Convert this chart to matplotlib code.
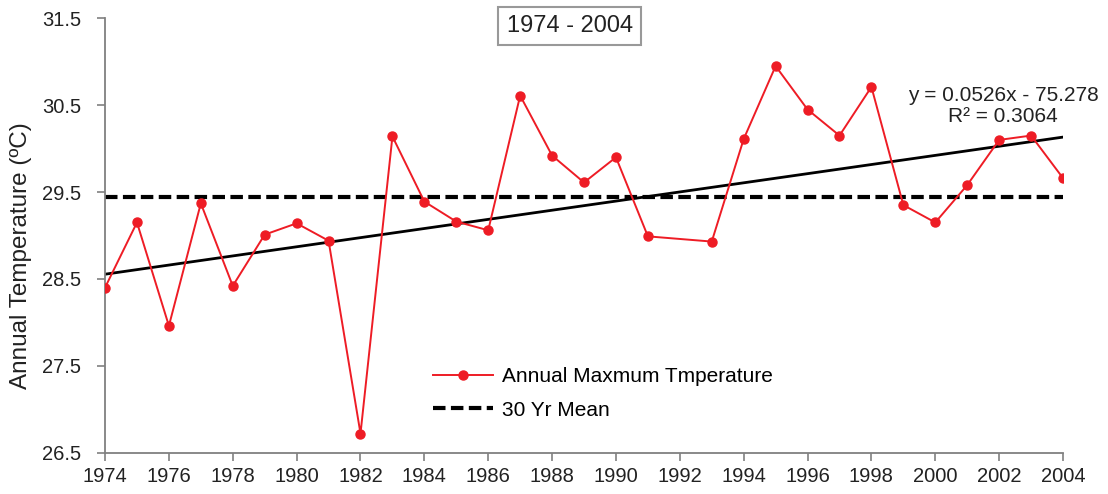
import numpy as np
import matplotlib.pyplot as plt

plt.rcParams['font.family'] = ['Liberation Sans', 'DejaVu Sans']

# Annual maximum temperature, 1974-2004 (no record for 1992)
years = [1974, 1975, 1976, 1977, 1978, 1979, 1980, 1981, 1982, 1983,
         1984, 1985, 1986, 1987, 1988, 1989, 1990, 1991, 1993, 1994,
         1995, 1996, 1997, 1998, 1999, 2000, 2001, 2002, 2003, 2004]
temps = [28.40, 29.15, 27.96, 29.37, 28.42, 29.01, 29.14, 28.94, 26.72, 30.14,
         29.39, 29.16, 29.06, 30.61, 29.92, 29.61, 29.90, 28.99, 28.93, 30.11,
         30.95, 30.45, 30.15, 30.71, 29.35, 29.15, 29.58, 30.10, 30.15, 29.66]

# linear trend as reported on the chart
slope = 0.0526
intercept = -75.278
r_squared = 0.3064

x_ticks = list(range(1974, 2005, 2))
y_ticks = [26.5, 27.5, 28.5, 29.5, 30.5, 31.5]

mean_temp = np.mean(temps)

fig = plt.figure(figsize=(11.08, 4.94), dpi=100)
ax = fig.add_axes([0.0948, 0.0836, 0.8646, 0.8794])

red = '#ee1c25'
ax.plot(years, temps, color=red, lw=1.4, marker='o', ms=6.5,
        label='Annual Maxmum Tmperature', zorder=3)
ax.plot([years[0], years[-1]], [mean_temp, mean_temp], color='black',
        lw=3, ls=(0, (3, 1.3)), label='30 Yr Mean', zorder=2)

trend_x = np.array([years[0], years[-1]])
ax.plot(trend_x, slope * trend_x + intercept, color='black', lw=2, zorder=2)

ax.set_xlim(1974, 2004)
ax.set_ylim(26.5, 31.5)
ax.set_xticks(x_ticks)
ax.set_yticks(y_ticks)
ax.set_yticklabels([f'{v:.1f}' for v in y_ticks])
ax.tick_params(labelsize=14.5, length=6, width=1.2, color='#808080',
               colors='#222222', direction='out')
ax.tick_params(axis='x', pad=4)
ax.tick_params(axis='y', pad=11)
for side in ('top', 'right'):
    ax.spines[side].set_visible(False)
for side in ('left', 'bottom'):
    ax.spines[side].set_color('#808080')
    ax.spines[side].set_linewidth(1.3)

fig.text(21 / 1108, 1 - 256 / 494, 'Annual Temperature (ºC)', fontsize=17.5,
         rotation=90, ha='center', va='center', color='#222222')

ax.text(0.485, 0.982, '1974 - 2004', transform=ax.transAxes, fontsize=17,
        ha='center', va='center', color='#222222',
        bbox=dict(boxstyle='square,pad=0.35', fc='white', ec='#999999', lw=1.5))

eq = f'y = {slope}x - {abs(intercept)}\nR² = {r_squared}'
ax.text(2002.12, 30.49, eq, fontsize=15, ha='center', va='center',
        linespacing=1.15, color='#222222')

ax.legend(loc='upper left', bbox_to_anchor=(0.342, 0.197), frameon=False,
          fontsize=15, handlelength=2.9, handletextpad=0.43, labelspacing=0.7,
          borderpad=0, borderaxespad=0)

fig.savefig('out.png', dpi=100)
